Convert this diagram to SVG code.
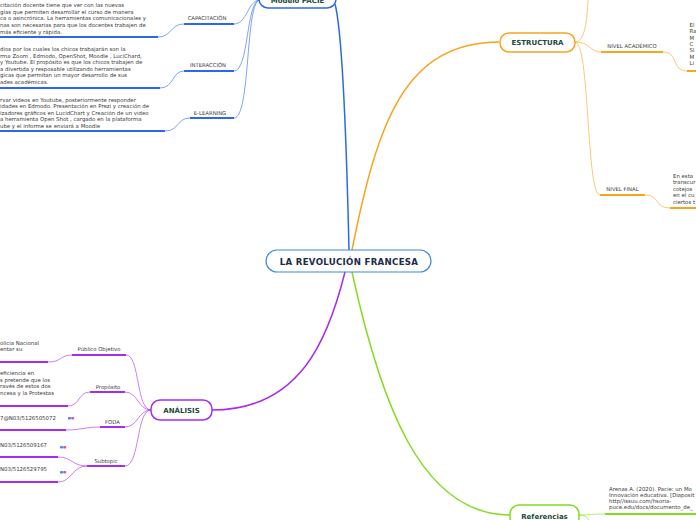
<svg xmlns="http://www.w3.org/2000/svg" width="696" height="520" viewBox="0 0 696 520">
<style>
text{font-family:"DejaVu Sans","Liberation Sans",sans-serif;}
.t{font-size:5.4px;fill:#3a3a3a;}
.lb{font-size:5.3px;fill:#3a3a3a;text-anchor:middle;}
.nt{font-size:7px;font-weight:bold;fill:#1c4a3b;text-anchor:middle;}
.c{fill:none;}
.bl{stroke:#2d68ec;}
.or{stroke:#f5a51f;}
.pu{stroke:#a62cf2;}
.gr{stroke:#84dc22;}
.thin{stroke-width:1;opacity:0.6;}
.ul{stroke-width:2;}
.main{stroke-width:1.5;}
.box{fill:#fff;stroke-width:1.5;}
</style>
<rect width="696" height="520" fill="#fff"/>
<g id="connectors">
<path class="c bl main" d="M349,250 C346,120 342,30 335,4"/>
<path class="c bl thin" d="M260,0 C248,0 247,24 234,24"/>
<path class="c bl thin" d="M260,0 C246,0 249,71 234,71"/>
<path class="c bl thin" d="M260,0 C245,0 251,118 234,118"/>
<path class="c bl ul" d="M234,24 L184,24"/>
<path class="c bl ul" d="M234,71 L184,71"/>
<path class="c bl ul" d="M234,118 L190,118"/>
<path class="c bl thin" d="M184,24 C170,24 172,37 158,37"/>
<path class="c bl thin" d="M184,71 C172,71 174,88 160,88"/>
<path class="c bl thin" d="M190,118 C177,118 179,131 165,131"/>
<path class="c bl ul" d="M158,37 L0,37"/>
<path class="c bl ul" d="M160,88 L0,88"/>
<path class="c bl ul" d="M165,131 L0,131"/>
<path class="c or main" d="M352,250 C378,120 405,43 499,42"/>
<path class="c or thin" d="M575,42 C585,42 587,20 588,0"/>
<path class="c or thin" d="M575,42 C590,42 590,52 601,52"/>
<path class="c or thin" d="M575,42 C590,42 586,195 600,195"/>
<path class="c or ul" d="M601,52 L663,52"/>
<path class="c or ul" d="M600,195 L645,195"/>
<path class="c or thin" d="M663,52 C679,52 671,71 687,71"/>
<path class="c or thin" d="M645,195 C660,195 654,208 670,208"/>
<path class="c or ul" d="M687,71 L696,71"/>
<path class="c or ul" d="M670,208 L696,208"/>
<path class="c pu main" d="M345,272 C328,340 300,410 212,410"/>
<path class="c pu thin" d="M151,410 C136,410 140,355 126,355"/>
<path class="c pu thin" d="M151,410 C138,410 138,392 125,392"/>
<path class="c pu thin" d="M151,410 C138,410 138,427 125,427"/>
<path class="c pu thin" d="M151,410 C136,410 140,466 125,466"/>
<path class="c pu ul" d="M126,355 L72,355"/>
<path class="c pu ul" d="M125,392 L90,392"/>
<path class="c pu ul" d="M125,427 L100,427"/>
<path class="c pu ul" d="M125,466 L87,466"/>
<path class="c pu thin" d="M72,355 C60,355 62,362 48,362"/>
<path class="c pu thin" d="M90,392 C78,392 80,406 68,406"/>
<path class="c pu thin" d="M100,427 C86,427 80,430 66,430"/>
<path class="c pu thin" d="M87,466 C72,466 72,457 58,457"/>
<path class="c pu thin" d="M87,466 C72,466 72,482 58,482"/>
<path class="c pu ul" d="M48,362 L0,362"/>
<path class="c pu ul" d="M68,406 L0,406"/>
<path class="c pu ul" d="M66,430 L0,430"/>
<path class="c pu ul" d="M58,457 L0,457"/>
<path class="c pu ul" d="M58,482 L0,482"/>
<path class="c gr main" d="M352,272 C380,400 420,515 510,515"/>
<path class="c gr thin" d="M579,515 C590,515 592,514 605,514"/>
<path class="c gr thin" d="M579,515 C588,515 590,520 592,530"/>
<path class="c gr ul" d="M605,514 L696,514"/>
</g>
<g id="central">
<rect x="266" y="250" width="165" height="22" rx="11" fill="#fff" stroke="#3f8ad8" stroke-width="1.2"/>
<text x="349" y="264.5" text-anchor="middle" font-size="8.6" font-weight="bold" fill="#1c2b4a" letter-spacing="0.3">LA REVOLUCIÓN FRANCESA</text>
</g>
<g id="modelo-pacie">
<rect x="259" y="-12" width="77" height="20" rx="9" class="box" stroke="#2d68ec"/>
<text x="297.5" y="3" class="nt">Modelo PACIE</text>
</g>
<g id="capacitacion">
<text x="207" y="20" class="lb">CAPACITACIÓN</text>
<text class="t" x="0" y="7">citación docente tiene que ver con las nuevas</text>
<text class="t" x="0" y="13.7">gías que permiten desarrollar el curso de manera</text>
<text class="t" x="0" y="20.4">ca o asincrónica. La herramientas comunicacionales y</text>
<text class="t" x="0" y="27.1">nas son necesarias para que los docentes trabajen de</text>
<text class="t" x="0" y="33.8"> más eficiente y rápida.</text>
</g>
<g id="interaccion">
<text x="208" y="67" class="lb">INTERACCIÓN</text>
<text class="t" x="0" y="51">dios por los cuales los chicos trabajarán son la</text>
<text class="t" x="0" y="57.6">rma Zoom , Edmodo, OpenShot, Moodle , LuciChard,</text>
<text class="t" x="0" y="64.2">y Youtube. El propósito es que los chicos trabajen de</text>
<text class="t" x="0" y="70.8">a divertida y resposable utilizando herramientas</text>
<text class="t" x="0" y="77.4">gicas que permitan un mayor desarrollo de sus</text>
<text class="t" x="0" y="84">ades académicas.</text>
</g>
<g id="e-learning">
<text x="210" y="114.5" class="lb">E-LEARNING</text>
<text class="t" x="0" y="101.5">rvar videos en Youtube, posteriormente responder</text>
<text class="t" x="0" y="108">idades en Edmodo. Presentación en Prezi y creación de</text>
<text class="t" x="0" y="114.5">izadores gráficos en LucidChart y Creación de un video</text>
<text class="t" x="0" y="121">a herramienta Open Shot , cargado en la plataforma</text>
<text class="t" x="0" y="127.5">ube y el informe se enviará a Moodle</text>
</g>
<g id="estructura">
<rect x="500" y="33" width="75" height="19" rx="9" class="box" stroke="#f5a51f"/>
<text x="537.5" y="45" class="nt">ESTRUCTURA</text>
</g>
<g id="nivel-academico">
<text x="632" y="48" class="lb">NIVEL ACADÉMICO</text>
<text class="t" x="689.5" y="27">El</text>
<text class="t" x="689.5" y="33.3">Ra</text>
<text class="t" x="689.5" y="39.6">M</text>
<text class="t" x="689.5" y="45.9">C</text>
<text class="t" x="689.5" y="52.2">Sl</text>
<text class="t" x="689.5" y="58.5">M</text>
<text class="t" x="689.5" y="65">Li</text>
</g>
<g id="nivel-final">
<text x="622.5" y="191" class="lb">NIVEL FINAL</text>
<text class="t" x="673" y="177.5">En esta</text>
<text class="t" x="673" y="184">transcur</text>
<text class="t" x="673" y="190.5">cotejos</text>
<text class="t" x="673" y="197">en el cu</text>
<text class="t" x="673" y="203.5">ciertos t</text>
</g>
<g id="analisis">
<rect x="151" y="400" width="61" height="20" rx="9" class="box" stroke="#a62cf2"/>
<text x="181.5" y="413" class="nt">ANÁLISIS</text>
</g>
<g id="publico-objetivo">
<text x="99" y="351" class="lb">Público Objetivo</text>
<text class="t" x="0" y="345">olicia Nacional</text>
<text class="t" x="0" y="351">entar su</text>
</g>
<g id="proposito">
<text x="108" y="388.5" class="lb">Propósito</text>
<text class="t" x="0" y="375">eficiencia en</text>
<text class="t" x="0" y="381.6">s pretende que los</text>
<text class="t" x="0" y="388.2">ravés de estos dos</text>
<text class="t" x="0" y="394.8">ncesa y la Protestas</text>
</g>
<g id="foda">
<text x="112.5" y="423.5" class="lb">FODA</text>
<text class="t" x="0" y="420">7@N03/5126505072</text>
<rect x="68" y="417" width="3" height="2.6" rx="0.8" fill="#3d8ef2"/>
<rect x="71.2" y="417" width="3" height="2.6" rx="0.8" fill="#f0508c"/>
</g>
<g id="subtopic">
<text x="106" y="462.5" class="lb">Subtopic</text>
<text class="t" x="0" y="447">N03/5126509167</text>
<rect x="60" y="446" width="3" height="2.6" rx="0.8" fill="#3d8ef2"/>
<rect x="63.2" y="446" width="3" height="2.6" rx="0.8" fill="#f0508c"/>
<text class="t" x="0" y="470.5">N03/5126529795</text>
<rect x="60" y="471" width="3" height="2.6" rx="0.8" fill="#3d8ef2"/>
<rect x="63.2" y="471" width="3" height="2.6" rx="0.8" fill="#f0508c"/>
</g>
<g id="referencias">
<rect x="510" y="505" width="69" height="22" rx="9" class="box" stroke="#84dc22"/>
<text x="544.5" y="519" class="nt">Referencias</text>
<text class="t" x="609" y="490.5">Arenas A. (2020). Pacie: un Mo</text>
<text class="t" x="609" y="496.7">Innovación educativa. [Diaposit</text>
<text class="t" x="609" y="502.9">http//issuu.com/hsoria-</text>
<text class="t" x="609" y="509.1">puce.edu/docs/documento_de_</text>
</g>
</svg>
